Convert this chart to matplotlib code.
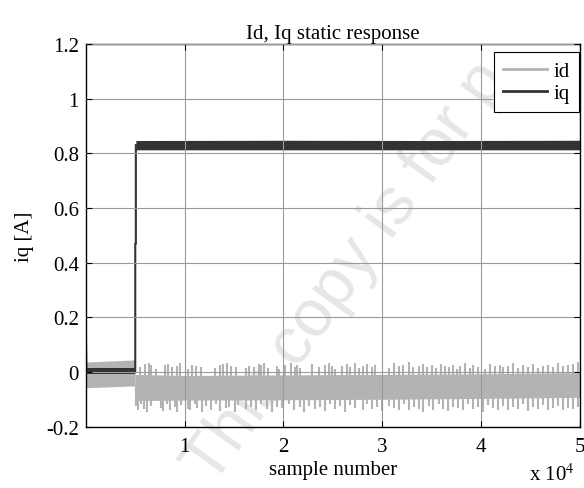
import matplotlib
matplotlib.use("Agg")
import matplotlib.pyplot as plt
from matplotlib.lines import Line2D

plt.rcParams['font.family'] = ['Liberation Serif', 'DejaVu Serif']
plt.rcParams['mathtext.fontset'] = 'stix'

# ---------------- data ----------------
title = "Id, Iq static response"
xlabel = "sample number"
ylabel = "iq [A]"
xtick_vals = [10000, 20000, 30000, 40000, 50000]
xtick_labels = ["1", "2", "3", "4", "5"]
ytick_vals = [-0.2, 0, 0.2, 0.4, 0.6, 0.8, 1.0, 1.2]
ytick_labels = ["-0.2", "0", "0.2", "0.4", "0.6", "0.8", "1", "1.2"]

# id : band before the step (samples 0..5000)
id_pre_x = [0, 5000]
id_pre_lo = [-0.057, -0.050]
id_pre_hi = [0.037, 0.045]

# id : dense core band after the step
id_core_x = [5000, 10000, 20000, 30000, 40000, 50000]
id_core_lo = [-0.104, -0.102, -0.101, -0.099, -0.096, -0.092]
id_core_hi = [-0.008, -0.012, -0.010, -0.008, -0.006, -0.002]

# id : upward spikes (sample, top value)
id_up_x = [5480, 5960, 6390, 6560, 7070, 8010, 8310, 8760, 9190, 9530,
           10330, 10780, 11180, 11620, 13060, 13570, 13910, 14310, 14650, 15150,
           16160, 16490, 17000, 17510, 17680, 18010, 18410, 19360,
           19530, 20200, 20810, 21140, 21380, 21720, 22900, 23570, 24240, 24650,
           24920, 25180, 25930, 26430, 26770, 27270, 27610, 28010, 28450, 28960,
           29290, 30640, 31140, 31650, 32050, 32660, 33060, 33670, 34170,
           34510, 35020, 35450, 35930, 36360, 36800, 37200, 37540, 37880, 38380,
           38890, 39220, 39730, 40400, 40910, 41410, 41920, 42250, 42760, 43260,
           43770, 44270, 44780, 45280, 45790, 46290, 46800, 47300, 47810, 48310,
           48820, 49320, 49830]
id_up_hi = [0.020, 0.030, 0.033, 0.028, 0.012, 0.025, 0.030, 0.018, 0.022, 0.033,
            0.010, 0.026, 0.024, 0.020, 0.015, 0.028, 0.030, 0.034, 0.022, 0.018,
            0.014, 0.024, 0.020, 0.030, 0.026, 0.033, 0.016, 0.022,
            0.012, 0.026, 0.032, 0.020, 0.028, 0.014, 0.030, 0.018, 0.026, 0.033,
            0.024, 0.012, 0.022, 0.030, 0.020, 0.034, 0.016, 0.024, 0.030, 0.018,
            0.026, 0.014, 0.032, 0.022, 0.028, 0.036, 0.018, 0.024, 0.030,
            0.020, 0.026, 0.014, 0.030, 0.022, 0.018, 0.028, 0.012, 0.024, 0.032,
            0.016, 0.026, 0.020, 0.012, 0.030, 0.022, 0.028, 0.018, 0.024, 0.034,
            0.016, 0.026, 0.020, 0.030, 0.014, 0.024, 0.028, 0.018, 0.032, 0.022,
            0.026, 0.030, 0.036]

# id : downward spikes (sample, bottom value)
id_dn_x = [5050, 5290, 5560, 5890, 6160, 6570, 7580, 7850, 8250, 8520,
           8990, 9260, 9600, 10340, 10540, 11010, 11280, 11780, 12120, 12630,
           13130, 13570, 14140, 14480, 15050, 15390, 16160, 16670, 17170, 17750,
           18350, 18860, 19360,
           19870, 20540, 21040, 21720, 22050, 22560, 23230, 23740, 24240, 24750,
           25250, 25760, 26260, 26770, 27270, 28010, 28450, 28960, 29460, 29970,
           30640, 31140, 31650, 32150, 32660, 33160, 33670, 34170,
           34680, 35180, 35690, 36190, 36700, 37200, 37710, 38210, 38720, 39220,
           39730, 40230, 40740, 41240, 41750, 42250, 42760, 43260, 43770, 44270,
           44780, 45280, 45790, 46290, 46800, 47300, 47810, 48310, 48820, 49320,
           49830]
id_dn_lo = [-0.125, -0.140, -0.118, -0.135, -0.145, -0.122, -0.130, -0.142, -0.115, -0.138,
            -0.128, -0.146, -0.120, -0.134, -0.140, -0.116, -0.132, -0.144, -0.124, -0.138,
            -0.118, -0.142, -0.130, -0.126, -0.145, -0.120, -0.136, -0.128, -0.140, -0.118,
            -0.134, -0.144, -0.126,
            -0.132, -0.118, -0.140, -0.126, -0.145, -0.122, -0.136, -0.128, -0.142, -0.116,
            -0.134, -0.124, -0.146, -0.120, -0.130, -0.140, -0.118, -0.136, -0.126, -0.143,
            -0.122, -0.132, -0.138, -0.116, -0.140, -0.128, -0.134, -0.144,
            -0.124, -0.138, -0.118, -0.134, -0.142, -0.126, -0.130, -0.140, -0.116, -0.136,
            -0.128, -0.144, -0.120, -0.132, -0.138, -0.122, -0.140, -0.126, -0.134, -0.118,
            -0.142, -0.128, -0.136, -0.120, -0.138, -0.130, -0.124, -0.140, -0.132, -0.136,
            -0.128]

# iq : step trace
iq_step_x = [0, 60, 200, 5000, 5000, 5060, 5060]
iq_step_y = [0.15, 0.0, 0.0, 0.0, 0.47, 0.47, 0.83]
# iq : band before step
iq_pre_x = [0, 5000]
iq_pre_lo = [-0.006, -0.006]
iq_pre_hi = [0.015, 0.015]
# iq : band after step
iq_post_x = [5060, 20000, 35000, 50000]
iq_post_lo = [0.813, 0.813, 0.813, 0.813]
iq_post_hi = [0.847, 0.848, 0.847, 0.848]

id_color = '#b3b3b3'
iq_color = '#333333'

# ---------------- figure ----------------
fig = plt.figure(figsize=(5.84, 4.89), dpi=100)
ax = fig.add_axes([0.147, 0.125, 0.846, 0.783])

fs = 15

# watermark (behind the axes content)
fig.text(0.365, 0.004, "This copy is for p", rotation=54, rotation_mode='anchor',
         ha='left', va='baseline', fontsize=48, color='#e6e6e6',
         family=['Liberation Sans', 'DejaVu Sans'], zorder=-1)
ax.patch.set_alpha(0)

# id
ax.fill_between(id_pre_x, id_pre_lo, id_pre_hi, color=id_color, lw=0, zorder=1)
ax.fill_between(id_core_x, id_core_lo, id_core_hi, color=id_color, lw=0, zorder=1)
ax.vlines(id_up_x, -0.05, id_up_hi, color=id_color, lw=1.5, zorder=1)
ax.vlines(id_dn_x, id_dn_lo, -0.05, color=id_color, lw=1.5, zorder=1)

# iq
ax.fill_between(iq_pre_x, iq_pre_lo, iq_pre_hi, color=iq_color, lw=0, zorder=2)
ax.fill_between(iq_post_x, iq_post_lo, iq_post_hi, color=iq_color, lw=0, zorder=2)
ax.plot(iq_step_x, iq_step_y, color=iq_color, lw=1.5, zorder=2)

ax.set_xlim(0, 50000)
ax.set_ylim(-0.2, 1.2)
ax.set_xticks(xtick_vals)
ax.set_xticklabels(xtick_labels)
ax.set_yticks(ytick_vals)
ax.set_yticklabels(ytick_labels)
ax.tick_params(direction='in', top=True, right=True, length=4, width=0.8,
               labelsize=fs, colors='black')
ax.tick_params(axis='x', pad=7)
ax.tick_params(axis='y', pad=5)
ax.grid(True, color='#9a9a9a', lw=0.8)
ax.set_axisbelow(False)
for s in ax.spines.values():
    s.set_linewidth(1.0)
    s.set_color('black')

ax.set_title(title, fontsize=fs, pad=4)
ax.set_xlabel(xlabel, fontsize=fs, labelpad=3)
ax.set_ylabel(ylabel, fontsize=fs, labelpad=9)

fig.text(0.905, 0.006, r"x 10$^{4}$", fontsize=fs, ha='left', va='bottom')

handles = [Line2D([], [], color=id_color, lw=2),
           Line2D([], [], color=iq_color, lw=2)]
leg = ax.legend(handles, ["id", "iq"], loc='upper right',
                bbox_to_anchor=(0.998, 0.978), borderaxespad=0, fontsize=fs,
                handlelength=2.1, handletextpad=0.3, labelspacing=0.1,
                borderpad=0.45, fancybox=False, framealpha=1, edgecolor='black')
leg.get_frame().set_linewidth(0.8)

fig.savefig("out.png", dpi=100)
